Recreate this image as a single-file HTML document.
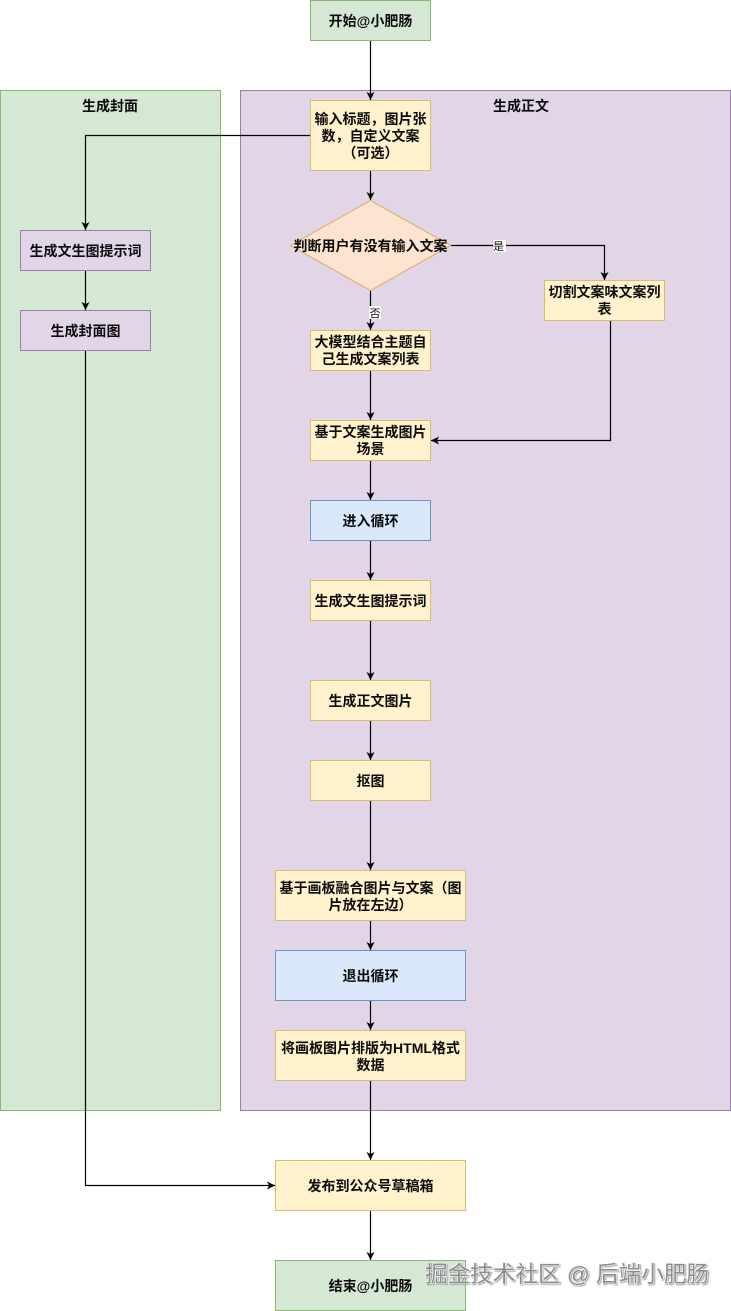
<!DOCTYPE html>
<html><head><meta charset="utf-8"><style>
html,body{margin:0;padding:0;background:#fff}
svg{display:block}
text{font-family:"Liberation Sans","Noto Sans CJK SC",sans-serif;font-size:14px;font-weight:bold;fill:#0c0c0c;text-anchor:middle}
rect,path{shape-rendering:geometricPrecision}
.g{fill:#d5e8d4;stroke:#8ab872}.y{fill:#fff2cc;stroke:#d9bd6a}.p{fill:#e1d5e7;stroke:#9a7eab}.b{fill:#dae8fc;stroke:#7391bd}
.d{fill:#fde4d0;stroke:#dbae55}
.l{fill:none;stroke:#000;stroke-width:1.2}
.wm{font-size:22.6px;font-weight:normal;fill:#8c8c8c;text-anchor:start;paint-order:stroke;stroke:#fff;stroke-width:1.2px;filter:drop-shadow(1px 1px 0.6px rgba(90,90,90,.55))}
.e{font-size:11px;font-weight:normal}
</style></head><body>
<svg width="731" height="1311" viewBox="0 0 731 1311" xmlns="http://www.w3.org/2000/svg">
<defs><marker id="a" markerWidth="10" markerHeight="10" refX="8" refY="4" orient="auto" markerUnits="userSpaceOnUse"><path d="M0 0L8 4L0 8L2 4Z" fill="#000"/></marker></defs>
<rect class="g" x="0.5" y="90.5" width="220" height="1020"/>
<rect class="p" x="240.5" y="90.5" width="490" height="1020"/>
<text x="110" y="111">生成封面</text>
<text x="521" y="111">生成正文</text>
<path class="l" marker-end="url(#a)" d="M370.5 41V100"/>
<path class="l" marker-end="url(#a)" d="M310 135.500H85.500V230"/>
<path class="l" marker-end="url(#a)" d="M370.500 171V200"/>
<path class="l" marker-end="url(#a)" d="M451 245.500H604.500V280"/>
<path class="l" marker-end="url(#a)" d="M370.500 291V330"/>
<path class="l" marker-end="url(#a)" d="M370.500 371V420"/>
<path class="l" marker-end="url(#a)" d="M610.500 321V440.500H431"/>
<path class="l" marker-end="url(#a)" d="M370.500 461V500"/>
<path class="l" marker-end="url(#a)" d="M370.500 541V580"/>
<path class="l" marker-end="url(#a)" d="M370.500 621V680"/>
<path class="l" marker-end="url(#a)" d="M370.500 721V760"/>
<path class="l" marker-end="url(#a)" d="M370.500 801V870"/>
<path class="l" marker-end="url(#a)" d="M370.500 921V950"/>
<path class="l" marker-end="url(#a)" d="M370.500 1001V1030"/>
<path class="l" marker-end="url(#a)" d="M370.500 1081V1160"/>
<path class="l" marker-end="url(#a)" d="M370.500 1211V1260"/>
<path class="l" marker-end="url(#a)" d="M85.500 271V310"/>
<path class="l" marker-end="url(#a)" d="M85.500 351V1185.500H275"/>
<rect class="g" x="310.500" y="0.500" width="120" height="40"/>
<text x="370.500" y="26">开始@小肥肠</text>
<rect class="y" x="310.500" y="100.500" width="120" height="70"/>
<text x="370.500" y="124">输入标题，图片张</text><text x="370.500" y="141">数，自定义文案</text><text x="370.500" y="158">（可选）</text>
<path class="d" d="M370.500 200.500L450.500 245.500L370.500 290.500L290.500 245.500Z"/>
<text x="370.500" y="251">判断用户有没有输入文案</text>
<rect x="493" y="240" width="13" height="12" fill="#fff"/><text class="e" x="498.500" y="250">是</text>
<rect x="369" y="306" width="12" height="13" fill="#fff"/><text class="e" x="375" y="317">否</text>
<rect class="y" x="544.500" y="280.500" width="120" height="40"/>
<text x="604.500" y="297">切割文案味文案列</text><text x="604.500" y="314">表</text>
<rect class="y" x="310.500" y="330.500" width="120" height="40"/>
<text x="370.500" y="347">大模型结合主题自</text><text x="370.500" y="364">己生成文案列表</text>
<rect class="y" x="310.500" y="420.500" width="120" height="40"/>
<text x="370.500" y="437">基于文案生成图片</text><text x="370.500" y="454">场景</text>
<rect class="b" x="310.500" y="500.500" width="120" height="40"/>
<text x="370.500" y="526">进入循环</text>
<rect class="y" x="310.500" y="580.500" width="120" height="40"/>
<text x="370.500" y="606">生成文生图提示词</text>
<rect class="y" x="310.500" y="680.500" width="120" height="40"/>
<text x="370.500" y="706">生成正文图片</text>
<rect class="y" x="310.500" y="760.500" width="120" height="40"/>
<text x="370.500" y="786">抠图</text>
<rect class="y" x="275.500" y="870.500" width="190" height="50"/>
<text x="370.500" y="893">基于画板融合图片与文案（图</text><text x="370.500" y="910">片放在左边）</text>
<rect class="b" x="275.500" y="950.500" width="190" height="50"/>
<text x="370.500" y="981">退出循环</text>
<rect class="y" x="275.500" y="1030.500" width="190" height="50"/>
<text x="370.500" y="1053">将画板图片排版为HTML格式</text><text x="370.500" y="1070">数据</text>
<rect class="y" x="275.500" y="1160.500" width="190" height="50"/>
<text x="370.500" y="1191">发布到公众号草稿箱</text>
<rect class="g" x="275.500" y="1260.500" width="190" height="50"/>
<text x="370.500" y="1291">结束@小肥肠</text>
<rect class="p" x="20.500" y="230.500" width="130" height="40"/>
<text x="85.500" y="256">生成文生图提示词</text>
<rect class="p" x="20.500" y="310.500" width="130" height="40"/>
<text x="85.500" y="336">生成封面图</text>
<text class="wm" x="425" y="1282">掘金技术社区 @ 后端小肥肠</text>
</svg>
</body></html>
